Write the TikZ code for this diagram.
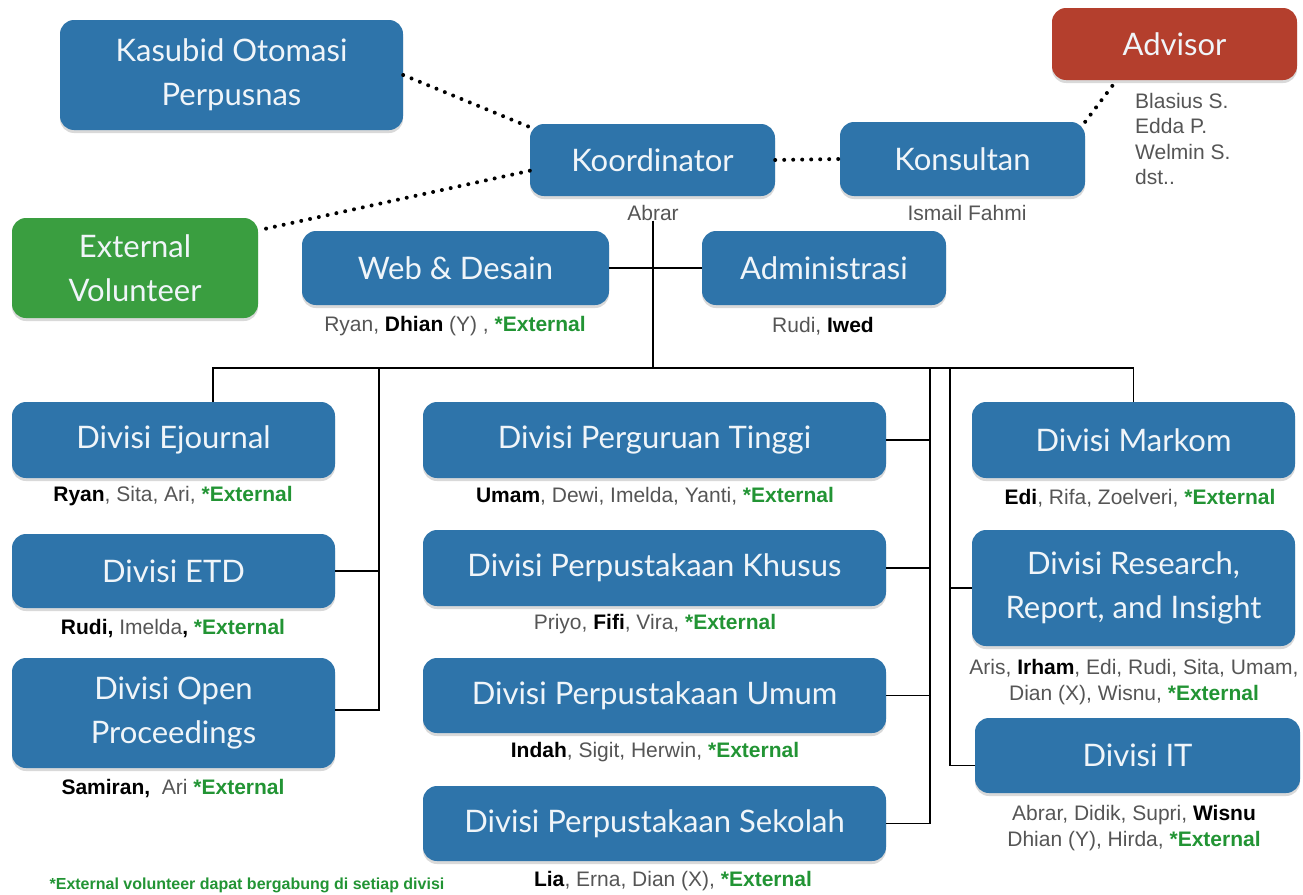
\documentclass[tikz,border=0pt]{standalone}
\usepackage{fontspec}
\setmainfont{Liberation Sans}
\newfontfamily\boxfont{Lato}
\usetikzlibrary{shadows}
\definecolor{boxc}{RGB}{46,116,170}
\definecolor{advc}{RGB}{180,63,45}
\definecolor{volc}{RGB}{58,158,64}
\definecolor{extc}{RGB}{34,148,52}
\definecolor{inkmuted}{RGB}{85,85,85}
\newcommand{\extv}{\textcolor{extc}{\textbf{*External}}}
\newcommand{\who}[1]{\textcolor{black}{\textbf{#1}}}

\begin{document}
\begin{tikzpicture}[x=1pt,y=-1pt,
  box/.style={fill=boxc,rounded corners=14pt,inner sep=0pt,text=white!93!boxc,align=center,
    font=\boxfont\fontsize{31}{44}\selectfont,
    drop shadow={shadow xshift=0pt,shadow yshift=-3pt,opacity=0.3}},
  lab/.style={text=inkmuted,font=\fontsize{21}{25.5}\selectfont,inner sep=1pt},
  dots/.style={line width=4pt,line cap=round,dash pattern=on 0pt off 9pt},
  link/.style={line width=1.6pt}]
\useasboundingbox (0,0) rectangle (1303,894);

\node[box,minimum width=343pt,minimum height=110pt] (kasubid) at (231.5,75) {Kasubid Otomasi\\Perpusnas};
\node[box,fill=advc,minimum width=245pt,minimum height=72pt] (advisor) at (1174.5,44) {Advisor};
\node[box,minimum width=245pt,minimum height=72pt] (koordinator) at (652.5,160) {Koordinator};
\node[box,minimum width=245pt,minimum height=74pt] (konsultan) at (962.5,159) {Konsultan};
\node[box,fill=volc,minimum width=246pt,minimum height=100pt] (ext) at (135,268) {External\\Volunteer};
\node[box,minimum width=307pt,minimum height=74pt] (web) at (455.5,268) {Web \& Desain};
\node[box,minimum width=244pt,minimum height=74pt] (admin) at (824,268) {Administrasi};

\node[box,minimum width=323pt,minimum height=76pt] (ejournal) at (173.5,440) {Divisi Ejournal};
\node[box,minimum width=323pt,minimum height=74pt] (etd) at (173.5,571) {Divisi ETD};
\node[box,minimum width=323pt,minimum height=110pt] (proc) at (173.5,713) {Divisi Open\\Proceedings};
\node[box,minimum width=463pt,minimum height=76pt] (pt) at (654.5,440) {Divisi Perguruan Tinggi};
\node[box,minimum width=463pt,minimum height=76pt] (khusus) at (654.5,568) {Divisi Perpustakaan Khusus};
\node[box,minimum width=463pt,minimum height=75pt] (umum) at (654.5,695.5) {Divisi Perpustakaan Umum};
\node[box,minimum width=463pt,minimum height=75pt] (sekolah) at (654.5,823.5) {Divisi Perpustakaan Sekolah};
\node[box,minimum width=323pt,minimum height=76pt] (markom) at (1133.5,440) {Divisi Markom};
\node[box,minimum width=323pt,minimum height=116pt] (research) at (1133.5,588) {Divisi Research,\\Report, and Insight};
\node[box,minimum width=325pt,minimum height=75pt] (it) at (1137.5,755.5) {Divisi IT};

\node[lab] (abrar) at (653,213) {Abrar};
\node[lab] (ismail) at (967,213) {Ismail Fahmi};
\node[lab,align=left,anchor=north west] (advnames) at (1134,92) {Blasius S.\\Edda P.\\Welmin S.\\dst..};
\node[lab] (webnames) at (455,326) {Ryan, \who{Dhian} (Y) , \extv};
\node[lab] (adminnames) at (823,326) {Rudi, \who{Iwed}};
\node[lab] (ejnames) at (173,496) {\who{Ryan}, Sita, Ari, \extv};
\node[lab] (etdnames) at (173,629) {\who{Rudi,} Imelda\who{,} \extv};
\node[lab] (procnames) at (173,789) {\who{Samiran,}\ \ Ari \extv};
\node[lab] (ptnames) at (655,496) {\who{Umam}, Dewi, Imelda, Yanti, \extv};
\node[lab] (khususnames) at (655,624) {Priyo, \who{Fifi}, Vira, \extv};
\node[lab] (umumnames) at (655,752) {\who{Indah}, Sigit, Herwin, \extv};
\node[lab] (sekolahnames) at (673,881) {\who{Lia}, Erna, Dian (X), \extv};
\node[lab] (markomnames) at (1140,498) {\who{Edi}, Rifa, Zoelveri, \extv};
\node[lab,align=center] (resnames) at (1134,682) {Aris, \who{Irham}, Edi, Rudi, Sita, Umam,\\Dian (X), Wisnu, \extv};
\node[lab,align=center] (itnames) at (1134,828) {Abrar, Didik, Supri, \who{Wisnu}\\Dhian (Y), Hirda, \extv};
\node[text=extc,font=\bfseries\fontsize{16}{19}\selectfont] (note) at (247,885) {*External volunteer dapat bergabung di setiap divisi};

\draw[dots] (kasubid.east) -- (koordinator.165);
\draw[dots] (koordinator.185) -- (ext.17);
\draw[dots] (koordinator.east) -- (konsultan.west);
\draw[dots] (konsultan.north east) -- (advisor.212);

\coordinate (busl) at (213,368);
\coordinate (spl) at (379,368);
\coordinate (spm) at (930,368);
\coordinate (spr) at (950,368);
\draw[link] (abrar.base) -- (abrar.base |- busl);
\draw[link] (web.east) -- (admin.west);
\draw[link] (busl |- ejournal.north) -- (busl) -- (markom.north |- busl) -- (markom.north);
\draw[link] (spl) |- ([yshift=3pt]proc.east);
\draw[link] (etd.east) -- (etd.east -| spl);
\draw[link] (spm) |- (sekolah.east);
\foreach \n in {pt,khusus,umum}
  \draw[link] (\n.east) -- (\n.east -| spm);
\draw[link] (spr) |- ([yshift=-10pt]it.west);
\draw[link] (research.west) -- (research.west -| spr);
\end{tikzpicture}
\end{document}
